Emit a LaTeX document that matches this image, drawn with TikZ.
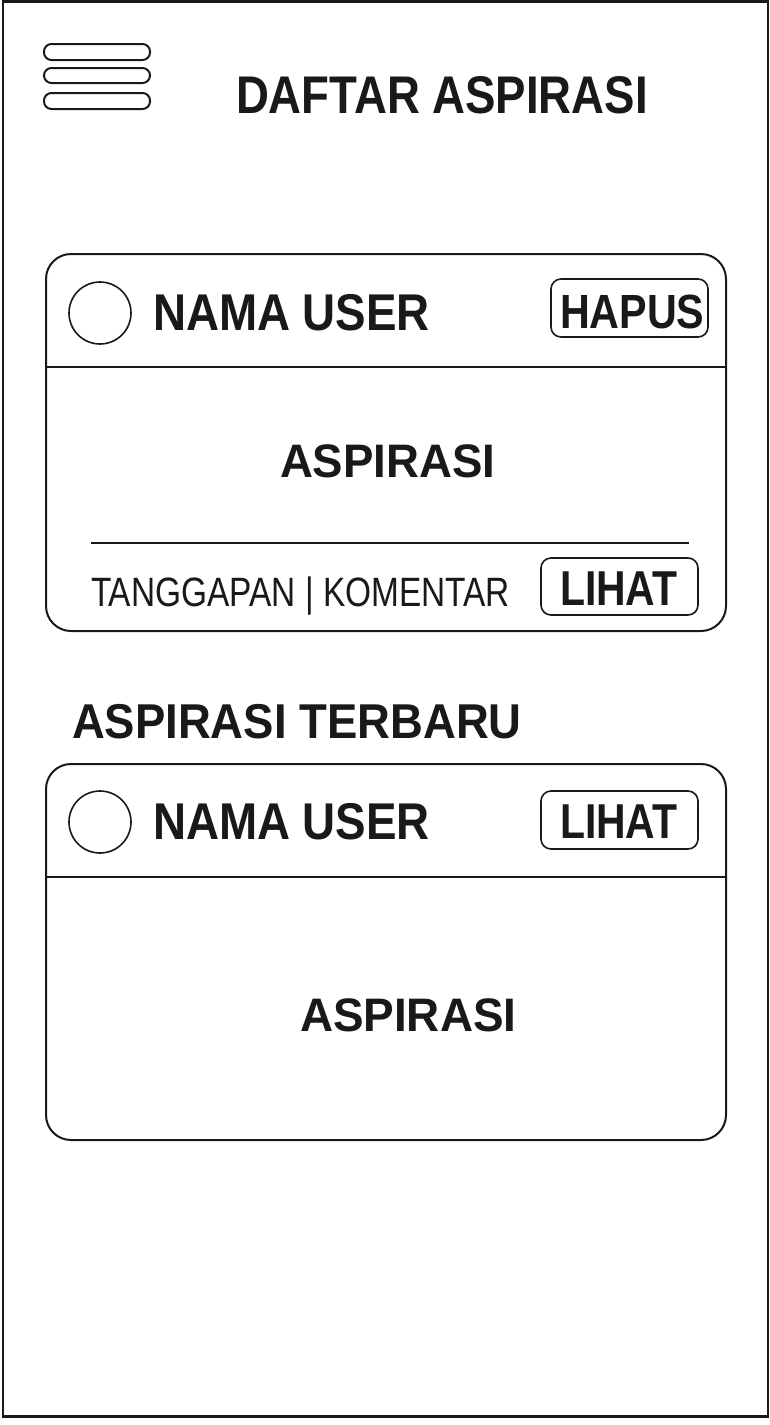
\documentclass[tikz,border=0pt]{standalone}
\usepackage{fontspec}
\setmainfont{Liberation Sans}
\usepackage{graphicx}
\newcommand{\bt}[3]{\scalebox{#2}[1]{\fontsize{#1}{#1}\selectfont\bfseries #3}}
\newcommand{\rt}[3]{\scalebox{#2}[1]{\fontsize{#1}{#1}\selectfont #3}}
\begin{document}
\begin{tikzpicture}[x=1pt,y=-1pt,
  frame/.style={draw=black!90,line width=2.4pt},
  card/.style={draw=black!90,line width=2pt,rounded corners=25pt},
  btn/.style={draw=black!90,line width=1.6pt,rounded corners=10pt},
  bar/.style={draw=black!90,line width=2pt,rounded corners=7.5pt},
  sep/.style={draw=black!90,line width=2pt},
  lbl/.style={inner sep=0pt,outer sep=0pt,anchor=base west,text=black!90}]
\useasboundingbox (0,0) rectangle (770,1425);
\fill[white] (0,0) rectangle (770,1425);
% frame
\draw[frame] (3,1.5) rectangle (768,1416.5);
% hamburger
\draw[bar] (44,44) rectangle (150,60);
\draw[bar] (44,68) rectangle (150,83);
\draw[bar] (44,93) rectangle (150,109);
\node[lbl] (title) at (236,113) {\bt{53}{0.86}{DAFTAR ASPIRASI}};
% card 1
\draw[card] (46,254) rectangle (726,631);
\draw[sep] (46,367) -- (726,367);
\node[draw=black!90,line width=1.6pt,circle,minimum size=62pt,inner sep=0pt] (av1) at (100,313) {};
\node[lbl] (name1) at (153,330) {\bt{51.7}{0.885}{NAMA USER}};
\draw[btn] (551,279) rectangle (708,337);
\node[lbl] (hapus) at (560,328) {\bt{48}{0.86}{HAPUS}};
\node[lbl] (asp1) at (280,477) {\bt{47}{0.97}{ASPIRASI}};
\draw[sep] (91,543) -- (689,543);
\node[lbl] (tk) at (91,606) {\rt{41}{0.815}{TANGGAPAN | KOMENTAR}};
\draw[btn] (541,558) rectangle (698,615);
\node[lbl] (lihat1) at (560,605) {\bt{49}{0.835}{LIHAT}};
% section title
\node[lbl] (terbaru) at (72,738) {\bt{48.9}{0.93}{ASPIRASI TERBARU}};
% card 2
\draw[card] (46,764) rectangle (726,1140);
\draw[sep] (46,877) -- (726,877);
\node[draw=black!90,line width=1.6pt,circle,minimum size=62pt,inner sep=0pt] (av2) at (100,822) {};
\node[lbl] (name2) at (153,839) {\bt{51.7}{0.885}{NAMA USER}};
\draw[btn] (541,791) rectangle (698,849);
\node[lbl] (lihat2) at (560,838) {\bt{49}{0.835}{LIHAT}};
\node[lbl] (asp2) at (300,1031) {\bt{47}{0.975}{ASPIRASI}};
\end{tikzpicture}
\end{document}
